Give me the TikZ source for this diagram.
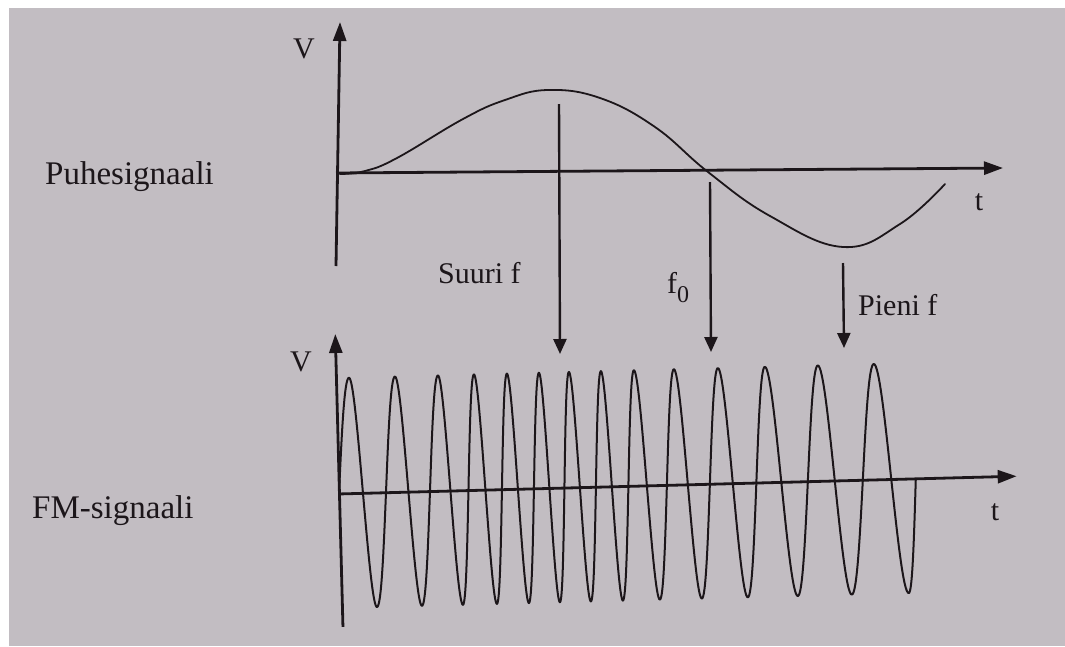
\documentclass[tikz,border=0pt]{standalone}
\usepackage{fontspec}
\setmainfont{Liberation Serif}
\usetikzlibrary{arrows.meta}
\definecolor{paper}{RGB}{194,189,194}
\definecolor{ink}{RGB}{28,22,26}
\begin{document}
\begin{tikzpicture}[x=1pt,y=-1pt,
  axisline/.style={ink,line width=2.8pt,-{Triangle[length=19pt,width=13pt]}},
  wave/.style={ink,line width=2pt,line join=round,line cap=round},
  pointer/.style={ink,line width=2.4pt,-{Triangle[length=15pt,width=13pt]}},
  lbl/.style={text=ink,font=\fontsize{30}{34}\selectfont,inner sep=0pt},
  sidelbl/.style={text=ink,font=\fontsize{33}{38}\selectfont,inner sep=0pt}]
\useasboundingbox (0,0) rectangle (1065,646);
\fill[white] (0,0) rectangle (1065,646);
\fill[paper] (9,8) rectangle (1065,646);

% ---------- top graph: speech signal ----------
\coordinate (tvb) at (336,266);
\coordinate (tvt) at (340,22);
\coordinate (th0) at (336,173);
\coordinate (the) at (1003,168);
\draw[axisline] (tvb) -- (tvt);
\draw[axisline] (th0) -- (the);
\draw[wave,line width=1.8pt] plot[smooth,tension=0.7] coordinates {
  (340,174) (365,171) (397,158) (463,119) (505,100) (548,90)
  (600,98) (655,127) (708,172) (770,216) (843,247) (900,224) (945,184)};
\node[lbl] (v1) at (304,49) {V};
\node[lbl,anchor=base] (t1) at (979,210) {t};
\node[sidelbl,anchor=base west] (puhe) at (45,184) {Puhesignaali};

% ---------- arrows ----------
\coordinate (a1s) at (559,104);
\coordinate (a1e) at (560,354);
\coordinate (a2s) at (710,182);
\coordinate (a2e) at (711,352);
\coordinate (a3s) at (843,263);
\coordinate (a3e) at (844,348);
\draw[pointer] (a1s) -- (a1e);
\draw[pointer] (a2s) -- (a2e);
\draw[pointer] (a3s) -- (a3e);
\node[lbl,anchor=base west] (suuri) at (438,283) {Suuri f};
\node[lbl,anchor=base west] (fnol) at (667,293) {f\raisebox{-9pt}{\fontsize{24}{26}\selectfont 0}};
\node[lbl,anchor=base west] (pieni) at (858,315) {Pieni f};

% ---------- bottom graph: FM signal ----------
\begin{scope}[rotate around={1.5:(339,494)}]
\coordinate (bvb) at (339.5,627);
\coordinate (bvt) at (339.5,334);
\coordinate (bh0) at (339,494);
\coordinate (bhe) at (1017,494);
\draw[axisline] (bvb) -- (bvt);
\draw[axisline] (bh0) -- (bhe);
\draw[wave] (339,494) sin (352,378)
 cos (363,494) sin (374,608)
 cos (386,494) sin (398,378)
 cos (408.5,494) sin (419,608)
 cos (430,494) sin (441,378)
 cos (450.5,494) sin (460,608)
 cos (468.5,494) sin (477,378)
 cos (485.5,494) sin (494,608)
 cos (502,494) sin (510,378)
 cos (518,494) sin (526,608)
 cos (534,494) sin (542,378)
 cos (549.5,494) sin (557,608)
 cos (564.5,494) sin (572,378)
 cos (580,494) sin (588,608)
 cos (596,494) sin (604,378)
 cos (612,494) sin (620,608)
 cos (628.5,494) sin (637,378)
 cos (647,494) sin (657,608)
 cos (667,494) sin (677,378)
 cos (688,494) sin (699,608)
 cos (710,494) sin (721,378)
 cos (733,494) sin (745,608)
 cos (756.5,494) sin (768,378)
 cos (781.5,494) sin (795,608)
 cos (808,494) sin (821,378)
 cos (835,494) sin (849,608)
 cos (863,494) sin (877,378)
 cos (891.5,494) sin (906,608)
 cos (916,494);
\end{scope}
\node[lbl] (v2) at (301,362) {V};
\node[lbl,anchor=base] (t2) at (995,520) {t};
\node[sidelbl,anchor=base west] (fm) at (32,518) {FM-signaali};
\end{tikzpicture}
\end{document}
